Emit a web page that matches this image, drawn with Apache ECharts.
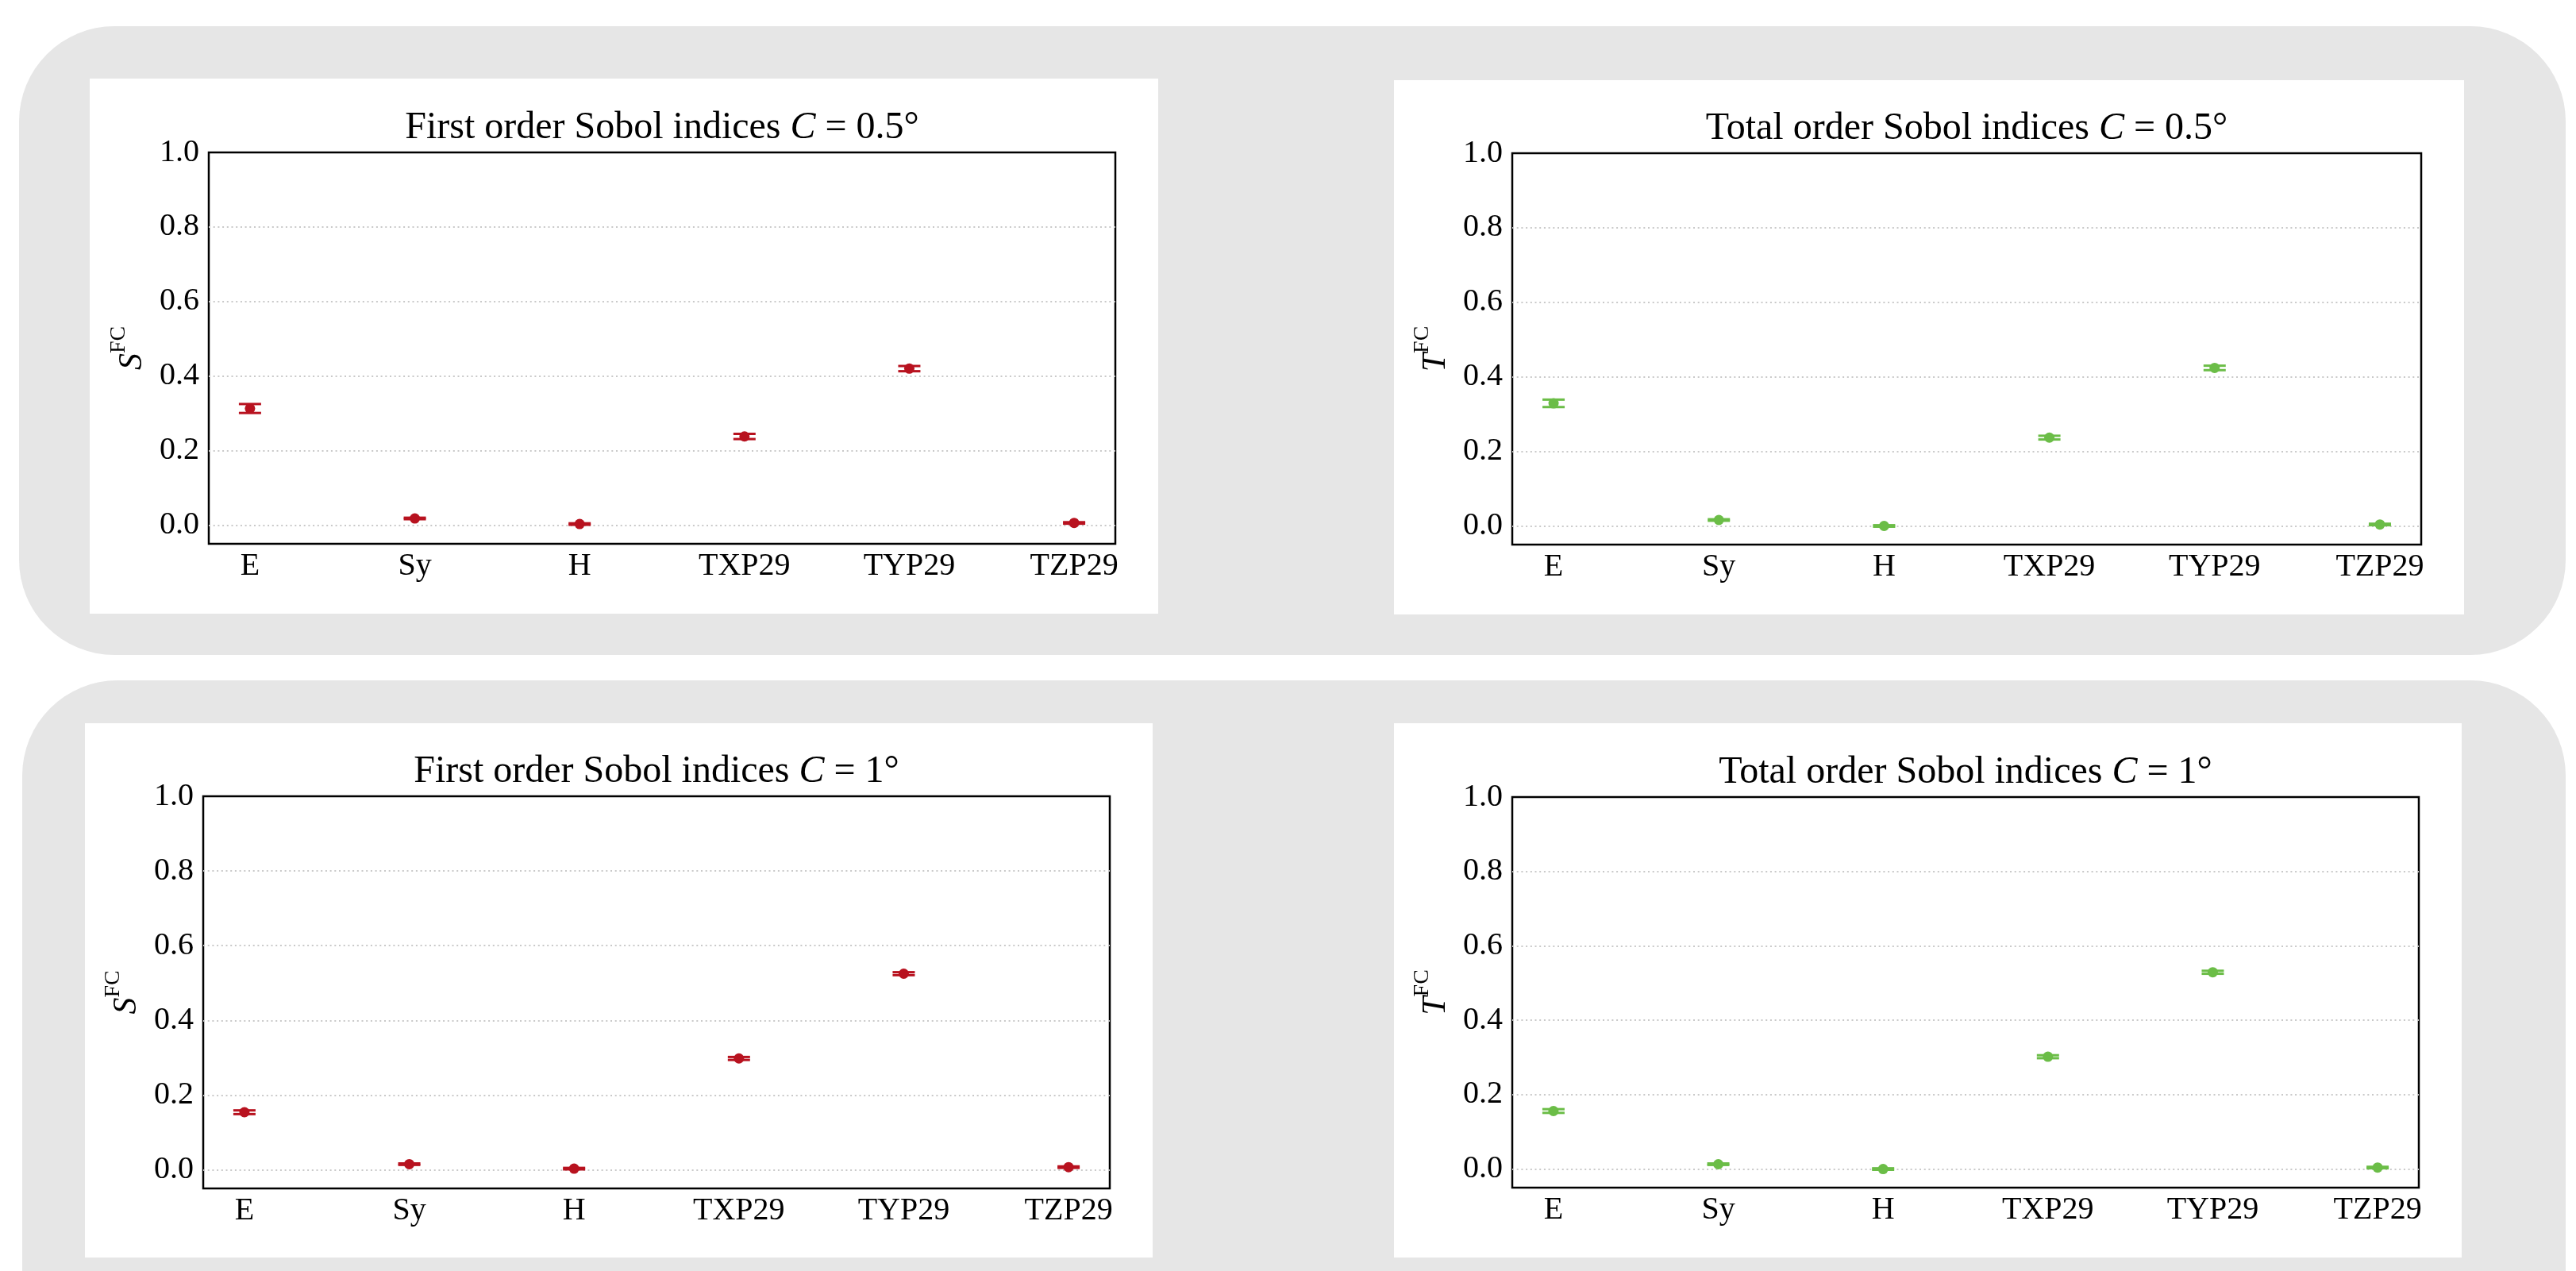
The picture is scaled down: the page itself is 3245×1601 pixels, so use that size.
<!DOCTYPE html>
<html>
<head>
<meta charset="utf-8">
<script src="https://cdn.jsdelivr.net/npm/echarts@6/dist/echarts.min.js"></script>
<style>
  html, body { margin: 0; padding: 0; width: 3245px; height: 1601px; overflow: hidden; background: #ffffff; }
  .gray { position: absolute; background: #e6e6e6; border-radius: 120px; }
  .panel { position: absolute; background: #ffffff; }
  #chart { position: absolute; left: 0; top: 0; width: 3245px; height: 1601px; }
</style>
</head>
<body>
<div class="gray" style="left:24px;top:33px;width:3208px;height:792px;"></div>
<div class="gray" style="left:28px;top:857px;width:3204px;height:900px;"></div>
<div class="panel" style="left:113px;top:99px;width:1346px;height:674px;"></div>
<div class="panel" style="left:1756px;top:101px;width:1348px;height:673px;"></div>
<div class="panel" style="left:107px;top:911px;width:1345px;height:673px;"></div>
<div class="panel" style="left:1756px;top:911px;width:1345px;height:673px;"></div>
<div id="chart"></div>
<script>
// ---------------- data ----------------
const categories = ['E', 'Sy', 'H', 'TXP29', 'TYP29', 'TZP29'];
const yTicks = [0.0, 0.2, 0.4, 0.6, 0.8, 1.0];
const gridValues = [0.0, 0.2, 0.4, 0.6, 0.8];

const firstHalf = [0.313, 0.018, 0.003, 0.238, 0.420, 0.006];
const firstHalfErr = [0.012, 0.002, 0.002, 0.007, 0.007, 0.002];
const totalHalf = [0.329, 0.016, 0.000, 0.237, 0.424, 0.004];
const totalHalfErr = [0.010, 0.002, 0.002, 0.005, 0.006, 0.002];
const firstOne = [0.154, 0.015, 0.003, 0.298, 0.525, 0.007];
const firstOneErr = [0.005, 0.002, 0.002, 0.004, 0.004, 0.002];
const totalOne = [0.156, 0.013, 0.000, 0.302, 0.529, 0.004];
const totalOneErr = [0.005, 0.002, 0.002, 0.004, 0.004, 0.002];

const titles = [
  ['First order Sobol indices ', 'C', ' = 0.5°'],
  ['Total order Sobol indices ', 'C', ' = 0.5°'],
  ['First order Sobol indices ', 'C', ' = 1°'],
  ['Total order Sobol indices ', 'C', ' = 1°']
];
const yNames = [['S', 'FC'], ['T', 'FC'], ['S', 'FC'], ['T', 'FC']];

// ---------------- style / layout ----------------
const RED = '#b8121f';
const GREEN = '#6bbd47';
const FONT = "'Liberation Serif', 'DejaVu Serif', serif";
const panels = [
  { left: 263, top: 192, width: 1142, height: 493, vals: firstHalf, errs: firstHalfErr, color: RED },
  { left: 1905, top: 193, width: 1145, height: 493, vals: totalHalf, errs: totalHalfErr, color: GREEN },
  { left: 256, top: 1003, width: 1142, height: 494, vals: firstOne, errs: firstOneErr, color: RED },
  { left: 1905, top: 1004, width: 1142, height: 492, vals: totalOne, errs: totalOneErr, color: GREEN }
];

const grid = [], xAxis = [], yAxis = [], series = [];

panels.forEach((p, g) => {
  grid.push({
    left: p.left, top: p.top, width: p.width, height: p.height,
    show: true, borderColor: '#000', borderWidth: 2.5, backgroundColor: 'transparent',
    containLabel: false
  });
  // bottom x axis (categories as integer positions)
  xAxis.push({
    gridIndex: g, type: 'value', min: -0.25, max: 5.25, interval: 0.25,
    axisLine: { show: false }, axisTick: { show: false }, splitLine: { show: false },
    axisLabel: {
      fontFamily: FONT, fontSize: 40, color: '#000', margin: 8,
      formatter: function (v) {
        const i = Math.round(v);
        return (Math.abs(v - i) < 1e-6 && categories[i] !== undefined) ? categories[i] : '';
      }
    }
  });
  // top x axis used only to carry the centred panel title
  const t = titles[g];
  xAxis.push({
    gridIndex: g, type: 'value', position: 'top', min: -0.25, max: 5.25,
    axisLine: { show: false }, axisTick: { show: false }, splitLine: { show: false },
    axisLabel: { show: false },
    name: '{n|' + t[0] + '}{c|' + t[1] + '}{n|' + t[2] + '}',
    nameLocation: 'middle', nameGap: 7,
    nameTextStyle: {
      color: '#000', fontFamily: FONT, fontSize: 48,
      rich: {
        n: { fontFamily: FONT, fontSize: 48, color: '#000' },
        c: { fontFamily: FONT, fontSize: 48, fontStyle: 'italic', color: '#000' }
      }
    }
  });
  const yn = yNames[g];
  yAxis.push({
    gridIndex: g, type: 'value', min: -0.05, max: 1.0, interval: 0.05,
    axisLine: { show: false }, axisTick: { show: false }, splitLine: { show: false },
    axisLabel: {
      fontFamily: FONT, fontSize: 40, color: '#000', margin: 12,
      formatter: function (v) {
        const r = Math.round(v * 100) / 100;
        return yTicks.some(tk => Math.abs(tk - r) < 1e-9) ? r.toFixed(1) : '';
      }
    },
    name: '{s|' + yn[0] + '}{p|' + yn[1] + '}',
    nameLocation: 'middle', nameGap: 75,
    nameTextStyle: {
      color: '#000', fontFamily: FONT, fontSize: 42,
      rich: {
        s: { fontFamily: FONT, fontSize: 42, fontStyle: 'italic', color: '#000', lineHeight: 52, verticalAlign: 'bottom' },
        p: { fontFamily: FONT, fontSize: 28, color: '#000', lineHeight: 30, verticalAlign: 'top' }
      }
    }
  });

  const color = p.color;
  series.push({
    type: 'custom', xAxisIndex: 2 * g, yAxisIndex: g, z: 3, silent: true,
    data: p.vals.map((v, i) => [i, v, p.errs[i]]),
    renderItem: function (params, api) {
      const x = api.value(0), v = api.value(1), e = api.value(2);
      const hi = api.coord([x, v + e]);
      const lo = api.coord([x, v - e]);
      const hw = 14;
      const st = { stroke: color, lineWidth: 3, fill: null };
      return {
        type: 'group',
        children: [
          { type: 'line', shape: { x1: hi[0], y1: hi[1], x2: lo[0], y2: lo[1] }, style: st },
          { type: 'line', shape: { x1: hi[0] - hw, y1: hi[1], x2: hi[0] + hw, y2: hi[1] }, style: st },
          { type: 'line', shape: { x1: lo[0] - hw, y1: lo[1], x2: lo[0] + hw, y2: lo[1] }, style: st }
        ]
      };
    }
  });
  series.push({
    type: 'scatter', xAxisIndex: 2 * g, yAxisIndex: g, z: 4, silent: true,
    symbol: 'circle', symbolSize: 13,
    itemStyle: { color: color, opacity: 1 },
    data: p.vals.map((v, i) => [i, v]),
    markLine: {
      silent: true, symbol: 'none', label: { show: false }, z: 1,
      lineStyle: { type: [2, 3.7], color: '#c9c9c9', width: 2 },
      emphasis: { disabled: true },
      data: gridValues.map(gv => ({ yAxis: gv }))
    }
  });
});

const chart = echarts.init(document.getElementById('chart'), null, { renderer: 'canvas' });
chart.setOption({
  backgroundColor: 'transparent',
  animation: false,
  grid: grid,
  xAxis: xAxis,
  yAxis: yAxis,
  series: series
});
</script>
</body>
</html>
